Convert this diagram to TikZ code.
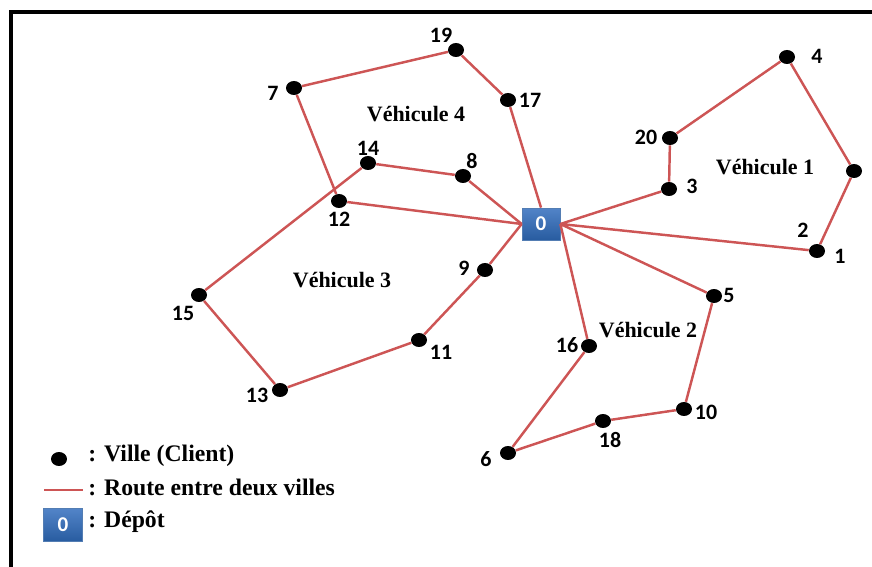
\documentclass[tikz,border=0pt]{standalone}
\usepackage{fontspec}
\setmainfont{Liberation Serif}
\newfontfamily\numfont{Carlito}
\usepackage{tikz}
\usetikzlibrary{shapes.geometric}
\definecolor{routered}{RGB}{205,85,85}
\definecolor{depotlight}{RGB}{82,132,200}
\definecolor{depotdark}{RGB}{40,92,160}

\tikzset{
  ville/.style={ellipse,fill=black,inner sep=0pt,minimum width=0.32cm,minimum height=0.28cm},
  route/.style={routered,line width=1.4pt},
  depot/.style={rectangle,top color=depotlight,bottom color=depotdark,draw=depotdark!80,
    minimum width=0.76cm,minimum height=0.64cm,inner sep=0pt,
    text=white,font=\numfont\bfseries\fontsize{12}{12}\selectfont},
  num/.style={font=\numfont\bfseries\fontsize{12.5}{12.5}\selectfont,inner sep=0pt},
  vehicule/.style={font=\bfseries\fontsize{12.5}{13}\selectfont,inner sep=0pt},
  legende/.style={font=\bfseries\fontsize{13.5}{14}\selectfont,anchor=west,inner sep=0pt}
}

\begin{document}
\begin{tikzpicture}[x=0.02cm,y=-0.02cm]
  \useasboundingbox (0,0) rectangle (872,567);
  % cadre
  \draw[line width=2.4pt] (11,567) -- (11,12) -- (872,12);

  % depot et villes
  \node[depot] (d) at (541,224) {0};
  \foreach \n/\x/\y/\lx/\ly in {1/817/251/840/256, 2/854/171/803/230, 3/669/189/692/186,
      4/787/57/817/56, 5/714/296/729/295, 6/508/453/486/459, 7/294/88/273/93,
      8/463/176/472/161, 9/485/270/464/268, 10/684/409/706/412, 11/419/340/441/352,
      12/339/201/339/219, 13/280/390/257/395, 14/368/163/368/148, 15/199/295/183/313,
      16/589/346/567/345, 17/508/100/530/100, 18/603/421/610/440, 19/456/50/441/35,
      20/670/138/646/137}{
    \node[ville] (v\n) at (\x,\y) {};
    \node[num] at (\lx,\ly) {\n};
  }

  % tournees
  \draw[route] (d.east) -- (v3) -- (v20) -- (v4) -- (v2) -- (v1) -- (d.east);
  \draw[route] (d.east) -- (v5) -- (v10) -- (v18) -- (v6) -- (v16) -- (d.east);
  \draw[route] (d.west) -- (v9) -- (v11) -- (v13) -- (v15) -- (v14) -- (v8) -- (d.west);
  \draw[route] (d.north) -- (v17) -- (v19) -- (v7) -- (v12) -- (d.west);

  \node[vehicule] (veh1) at (765,167) {Véhicule 1};
  \node[vehicule] (veh2) at (648,330) {Véhicule 2};
  \node[vehicule] (veh3) at (342,280) {Véhicule 3};
  \node[vehicule] (veh4) at (416,114) {Véhicule 4};

  % legende
  \node[ville] (lv) at (59,459) {};
  \node[legende] (tv) at (88,456) {: Ville (Client)};
  \coordinate (la) at (44,490);
  \coordinate (lb) at (83,490);
  \draw[route] (la) -- (lb);
  \node[legende] (tr) at (88,487) {: Route entre deux villes};
  \node[depot,minimum width=0.78cm,minimum height=0.66cm] (ld) at (63,525) {0};
  \node[legende] (td) at (88,522) {: Dépôt};
\end{tikzpicture}
\end{document}
